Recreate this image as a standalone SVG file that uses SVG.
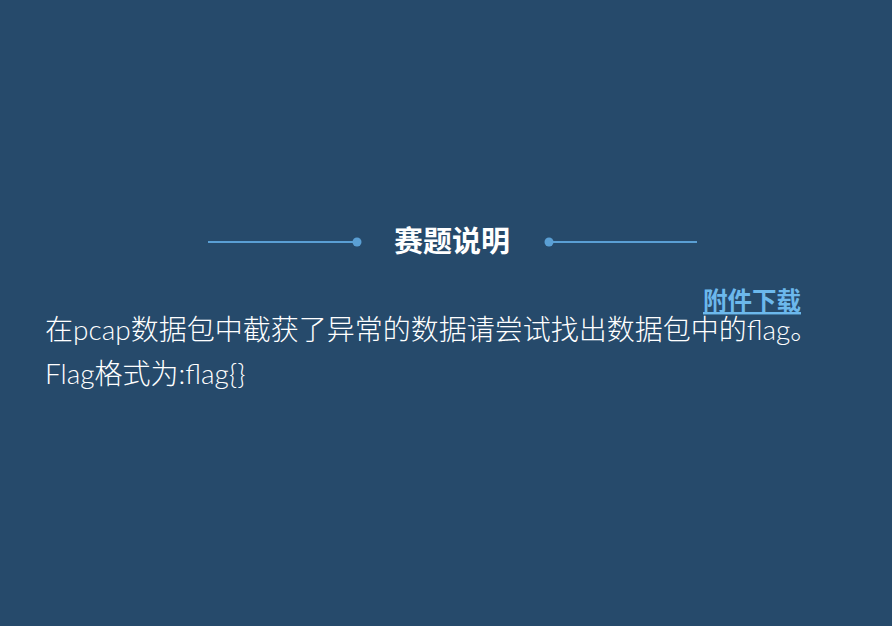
<svg xmlns="http://www.w3.org/2000/svg" width="892" height="626" viewBox="0 0 892 626">
<style>
.t{font-family:"Lato","Noto Sans CJK SC",sans-serif;fill:#ffffff}
.cjk{font-family:"Noto Sans CJK SC",sans-serif}
.light{font-weight:300}
.line{stroke:#5a9fd4;stroke-width:2}
.dot{fill:#5a9fd4}
</style>
<rect width="892" height="626" fill="#264a6b"/>
<g id="header">
<line class="line" x1="208" y1="242" x2="357" y2="242"/>
<circle class="dot" cx="357" cy="242" r="4.5"/>
<circle class="dot" cx="549" cy="242" r="4.5"/>
<line class="line" x1="549" y1="242" x2="697" y2="242"/>
<text class="t cjk" x="452" y="252" font-size="29" font-weight="bold" text-anchor="middle">赛题说明</text>
</g>
<g id="link">
<text class="cjk" x="801" y="310" font-size="24.5" font-weight="bold" text-anchor="end" fill="#6cb8ec" text-decoration="underline">附件下载</text>
</g>
<g id="body">
<text class="t light" x="45" y="340" font-size="28">在pcap数据包中截获了异常的数据请尝试找出数据包中的flag。</text>
<text class="t light" x="45" y="384" font-size="28">Flag格式为:flag{}</text>
</g>
</svg>
